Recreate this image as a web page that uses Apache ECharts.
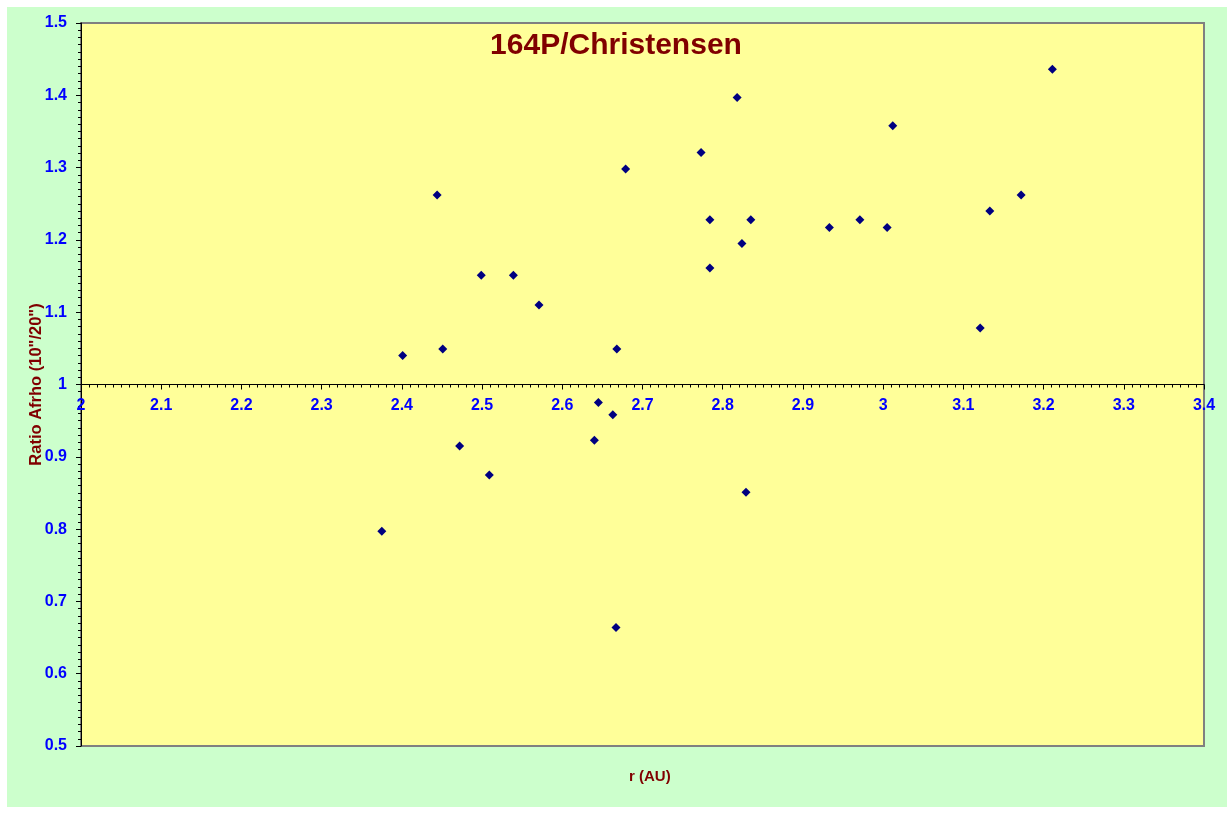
<!DOCTYPE html>
<html>
<head>
<meta charset="utf-8">
<script src="https://cdn.jsdelivr.net/npm/echarts@6/dist/echarts.min.js"></script>
<style>
html,body{margin:0;padding:0;background:#ffffff;}
#wrap{position:relative;width:1231px;height:813px;background:#ffffff;}
#bg{position:absolute;left:7px;top:7px;width:1220px;height:800px;background:#CCFFCC;}
#chart{position:absolute;left:0;top:0;width:1231px;height:813px;}
</style>
</head>
<body>
<div id="wrap"><div id="bg"></div><div id="chart"></div></div>
<script>
const titleText = '164P/Christensen';
const xAxisName = 'r (AU)';
const yAxisName = 'Ratio Afrho (10"/20")';
const rValues = [2.375, 2.401, 2.444, 2.451, 2.472, 2.499, 2.509, 2.539, 2.571, 2.640, 2.645, 2.663, 2.668, 2.667, 2.679, 2.773, 2.784, 2.784, 2.818, 2.824, 2.829, 2.835, 2.933, 2.971, 3.005, 3.012, 3.121, 3.133, 3.172, 3.211];
const ratioValues = [0.797, 1.040, 1.262, 1.049, 0.915, 1.151, 0.875, 1.151, 1.110, 0.923, 0.975, 0.958, 1.049, 0.664, 1.298, 1.321, 1.228, 1.161, 1.397, 1.195, 0.851, 1.228, 1.217, 1.228, 1.217, 1.358, 1.078, 1.240, 1.262, 1.436];

const points = rValues.map((r, i) => [r, ratioValues[i]]);
const font = '"Liberation Sans", Arial, sans-serif';

const chart = echarts.init(document.getElementById('chart'), null, {renderer: 'canvas'});
const gridTop = 23, gridBottom = 67, gridH = 813 - gridTop - gridBottom;
const yMin = 0.5, yMax = 1.5, crossAt = 1;
const xOffset = -gridH * (crossAt - yMin) / (yMax - yMin);

chart.setOption({
  backgroundColor: 'transparent',
  animation: false,
  title: {
    text: titleText,
    left: 611, top: 26, textAlign: 'center',
    textStyle: {color: '#800000', fontSize: 30, fontWeight: 'bold', fontFamily: font}
  },
  graphic: [{
    type: 'text', left: 629, top: 769,
    style: {text: xAxisName, fill: '#800000', font: 'bold 15px ' + font}
  }],
  grid: {
    left: 81, right: 27, top: gridTop, bottom: gridBottom,
    show: true, backgroundColor: '#FFFF99', borderColor: '#808080', borderWidth: 2
  },
  xAxis: {
    type: 'value', min: 2, max: 3.4, interval: 0.1,
    position: 'bottom', offset: xOffset,
    axisLine: {show: true, onZero: false, lineStyle: {color: '#000', width: 1}},
    axisTick: {show: true, length: 5, lineStyle: {color: '#000'}},
    minorTick: {show: true, splitNumber: 10, length: 3, lineStyle: {color: '#000'}},
    splitLine: {show: false},
    axisLabel: {color: '#0000FF', fontSize: 16, fontWeight: 'bold', fontFamily: font, margin: 13,
      showMinLabel: true, showMaxLabel: true, hideOverlap: false}
  },
  yAxis: {
    type: 'value', min: yMin, max: yMax, interval: 0.1,
    name: yAxisName, nameLocation: 'middle', nameGap: 36, nameRotate: 90,
    nameMoveOverlap: false,
    nameTextStyle: {color: '#800000', fontSize: 16.5, fontWeight: 'bold', fontFamily: font},
    axisLine: {show: true, onZero: false, lineStyle: {color: '#000', width: 1}},
    axisTick: {show: true, length: 5, lineStyle: {color: '#000'}},
    minorTick: {show: true, splitNumber: 10, length: 3, lineStyle: {color: '#000'}},
    splitLine: {show: false},
    axisLabel: {color: '#0000FF', fontSize: 16, fontWeight: 'bold', fontFamily: font, margin: 14,
      showMinLabel: true, showMaxLabel: true}
  },
  series: [{
    type: 'scatter',
    data: points,
    symbol: 'diamond',
    symbolSize: 9,
    itemStyle: {color: '#000080', opacity: 1}
  }]
});
</script>
</body>
</html>
